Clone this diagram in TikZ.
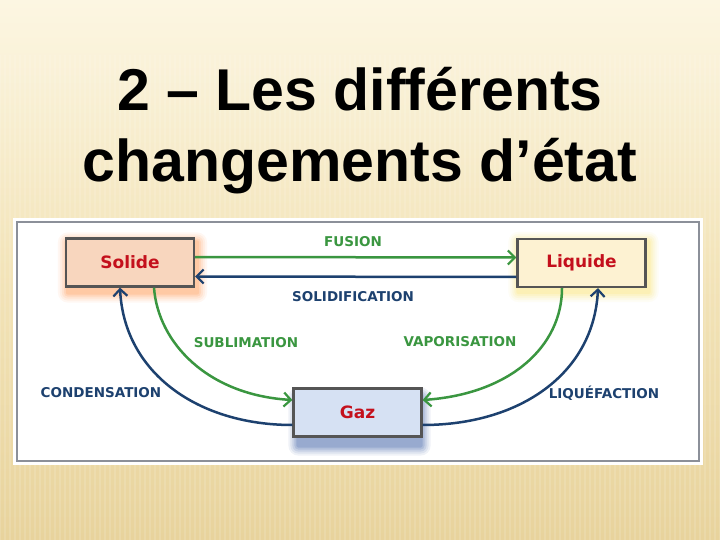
\documentclass[tikz,border=0pt]{standalone}
\usepackage{fontspec}
\setmainfont{Liberation Sans}
\newfontfamily\labfont{DejaVu Sans}
\usetikzlibrary{arrows.meta,calc}
\definecolor{bgtop}{HTML}{FCF6E2}
\definecolor{bgmid}{HTML}{F3E4B9}
\definecolor{bgbot}{HTML}{E8D39C}
\definecolor{grn}{HTML}{3A9640}
\definecolor{blu}{HTML}{1D416F}
\definecolor{redt}{HTML}{C4101C}
\definecolor{solfill}{HTML}{F8D6BE}
\definecolor{liqfill}{HTML}{FDF2D2}
\definecolor{gazfill}{HTML}{D6E1F3}
\definecolor{boxline}{HTML}{555555}
\definecolor{frameline}{HTML}{8C9099}
\definecolor{gazshadow}{HTML}{2F53A0}
\begin{document}
\begin{tikzpicture}[x=1pt,y=-1pt,
  box/.style={draw=boxline, line width=2.2pt, minimum width=128pt, minimum height=48pt,
              inner sep=0pt, font=\labfont\bfseries\fontsize{17}{18}\selectfont, text=redt},
  lab/.style={font=\labfont\bfseries\fontsize{13.5}{15}\selectfont, inner sep=0pt},
  tip/.style={-{Straight Barb[length=7pt,width=14pt,line width=2.2pt]}},
  conn/.style={line width=2.5pt, tip}]
\useasboundingbox (0,0) rectangle (720,540);
% background
\shade[top color=bgtop, bottom color=bgbot, middle color=bgmid] (0,0) rectangle (720,540);
\foreach \i in {0,5,...,720}{
  \draw[white, opacity=0.13, line width=1.4pt] (\i,55) -- (\i,540);
}
% frame
\fill[white] (13,218) rectangle (703,465);
\draw[frameline, line width=1.8pt] (17,222) rectangle (699,461);
% title
\node[anchor=base, font=\bfseries\fontsize{59}{70}\selectfont, inner sep=0pt] (t1) at (360,111) {2 – Les différents};
\node[anchor=base, font=\bfseries\fontsize{59}{70}\selectfont, inner sep=0pt] (t2) at (360,182) {changements d’état};
% box placeholders, glows, then boxes
\path (130,262.5) node[box, draw=none] (sol) {}
      (581.5,263) node[box, draw=none] (liq) {}
      (357.5,412.5) node[box, draw=none] (gaz) {};
\foreach \r/\o in {10/0.05,8/0.06,6/0.08,4/0.10,2/0.12}{
  \fill[orange!85!red, opacity=\o, rounded corners=\r] ($(sol.north west)+(-\r+3,-\r+5)$) rectangle ($(sol.south east)+(\r+2,\r+5)$);
  \fill[yellow!70!orange, opacity=0.8*\o, rounded corners=\r] ($(liq.north west)+(-\r+2,-\r+4)$) rectangle ($(liq.south east)+(\r+2,\r+4)$);
  \fill[gazshadow, opacity=1.5*\o, rounded corners=\r] ($(gaz.north west)+(-\r+6,-\r+10)$) rectangle ($(gaz.south east)+(\r-2,\r+8)$);
}
\node[box, fill=solfill] at (sol) {Solide};
\node[box, fill=liqfill] at (liq) {Liquide};
\node[box, fill=gazfill] at (gaz) {Gaz};
% horizontal arrows
\draw[conn, grn] ([yshift=5.5pt]sol.east) -- ([yshift=5.5pt]liq.west);
\draw[conn, blu] ([yshift=-14pt]liq.west) -- ([yshift=-14pt]sol.east);
% curved arrows
\draw[conn, grn] ([xshift=24pt]sol.south) .. controls +(4,55) and +(-85,-5) .. ([yshift=12.5pt]gaz.west);
\draw[conn, blu] ([yshift=-12.5pt]gaz.west) .. controls +(-95,0) and +(4,85) .. ([xshift=-10pt]sol.south);
\draw[conn, grn] ([xshift=-19.5pt]liq.south) .. controls +(0,58) and +(88,-6) .. ([yshift=12.5pt]gaz.east);
\draw[conn, blu] ([yshift=-12.5pt]gaz.east) .. controls +(98,0) and +(-4,85) .. ([xshift=16.5pt]liq.south);
% labels
\node[lab, text=grn] (lfus) at (353,242) {FUSION};
\node[lab, text=blu] (lsol) at (353,297) {SOLIDIFICATION};
\node[lab, text=grn] (lsub) at (246,343) {SUBLIMATION};
\node[lab, text=blu] (lcon) at (101,393) {CONDENSATION};
\node[lab, text=grn] (lvap) at (460,342) {VAPORISATION};
\node[lab, text=blu] (lliq) at (604,393) {LIQUÉFACTION};
\end{tikzpicture}
\end{document}
